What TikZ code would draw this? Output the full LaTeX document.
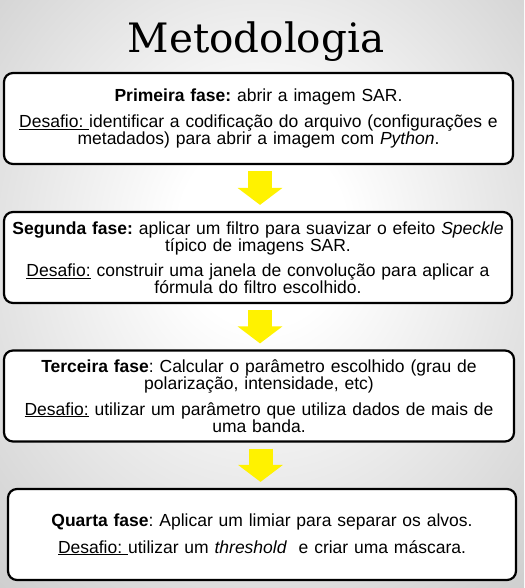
\documentclass[tikz,border=0pt]{standalone}
\usepackage{fontspec}
\newfontfamily\arialfont{Liberation Sans}
\newfontfamily\titlefont{DejaVu Serif}
\usetikzlibrary{calc,arrows.meta}
\frenchspacing

\pgfdeclareradialshading{fundo}{\pgfpoint{0bp}{6bp}}{color(0bp)=(white); color(8bp)=(white); color(50bp)=(black!27); color(70bp)=(black!36)}

\begin{document}
\begin{tikzpicture}[x=1pt, y=-1pt,
    fase/.style={draw=black, line width=2.2pt, rounded corners=9pt, fill=white,
        minimum height=91pt, text width=500pt, align=center, inner sep=0pt,
        font=\arialfont\fontsize{17.5}{17}\selectfont},
    fluxo/.style={yellow, line width=24pt, -{Triangle[width=44pt, length=17pt]}}]

    % Background with the light glow in the middle
    \useasboundingbox (0,0) rectangle (524,588);
    \shade[shading=fundo] (0,0) rectangle (524,588);

    % Title
    \node[anchor=base, font=\titlefont\fontsize{40.5}{44}\selectfont, inner sep=0pt] (titulo) at (256,53) {Metodologia};

    % The four phases
    \node[fase, minimum width=509pt] (fase1) at (258.5,118.5) {\textbf{Primeira fase:} abrir a imagem SAR.\\[8.5pt]
        \underline{Desafio:\ }identificar a codificação do arquivo (configurações e\\
        metadados) para abrir a imagem com \textit{Python}.};
    \node[fase, minimum width=508pt] (fase2) at (258,257.5) {\textbf{Segunda fase:} aplicar um filtro para suavizar o efeito \textit{Speckle}\\
        típico de imagens SAR.\\[8.5pt]
        \underline{Desafio:} construir uma janela de convolução para aplicar a\\
        fórmula do filtro escolhido.};
    \node[fase, minimum width=510pt] (fase3) at (259,396) {\textbf{Terceira fase}: Calcular o parâmetro escolhido (grau de\\
        polarização, intensidade, etc)\\[8.5pt]
        \underline{Desafio:} utilizar um parâmetro que utiliza dados de mais de\\
        uma banda.};
    \node[fase, minimum width=508pt] (fase4) at (262,534.5) {\textbf{Quarta fase}: Aplicar um limiar para separar os alvos.\\[9.5pt]
        \underline{Desafio:\ }utilizar um \textit{threshold}\ \ e criar uma máscara.};

    % Yellow arrows between the phases
    \draw[fluxo] ($(fase1.south)+(1.5,6)$) -- ($(fase1.south |- fase2.north)+(1.5,-6)$);
    \draw[fluxo] ($(fase2.south)+(2,6)$) -- ($(fase2.south |- fase3.north)+(2,-6)$);
    \draw[fluxo] ($(fase3.south)+(1.5,6)$) -- ($(fase3.south |- fase4.north)+(1.5,-6)$);
\end{tikzpicture}
\end{document}
